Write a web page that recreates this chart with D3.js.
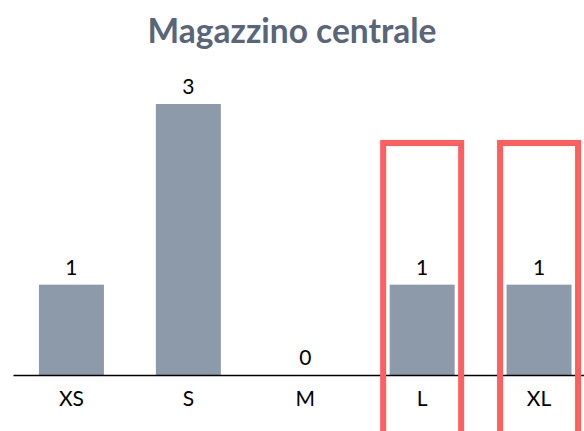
<!DOCTYPE html>
<html>
<head>
<meta charset="utf-8">
<script src="https://cdn.jsdelivr.net/npm/d3@7"></script>
<style>
  html, body { margin: 0; padding: 0; background: #fff; }
  svg { display: block; }
  text { font-family: Lato, "Open Sans", sans-serif; }
</style>
</head>
<body>
<svg id="chart" width="584" height="431"></svg>
<script>
// Stock per size at the central warehouse
const title = "Magazzino centrale";
const sizes = ["XS", "S", "M", "L", "XL"];
const counts = [1, 3, 0, 1, 1];
const highlighted = ["L", "XL"];

const W = 584, H = 431;
const svg = d3.select("#chart");

const x = d3.scaleBand()
  .domain(sizes)
  .range([13, 597.5])
  .paddingInner(0.444)
  .paddingOuter(0.222);

const y = d3.scaleLinear()
  .domain([0, 3])
  .range([375, 104]);

// Title
svg.append("text")
  .attr("x", W / 2)
  .attr("y", 43)
  .attr("text-anchor", "middle")
  .attr("font-size", 33.5)
  .attr("font-weight", 700)
  .attr("fill", "#596578")
  .text(title);

// Bars
svg.append("g")
  .selectAll("rect")
  .data(sizes)
  .join("rect")
  .attr("x", d => x(d))
  .attr("y", (d, i) => y(counts[i]))
  .attr("width", x.bandwidth())
  .attr("height", (d, i) => y(0) - y(counts[i]))
  .attr("fill", "#8d9aaa");

// Value labels
svg.append("g")
  .selectAll("text")
  .data(sizes)
  .join("text")
  .attr("x", d => x(d) + x.bandwidth() / 2)
  .attr("y", (d, i) => y(counts[i]) - 10)
  .attr("text-anchor", "middle")
  .attr("font-size", 21)
  .attr("fill", "#000")
  .text((d, i) => counts[i]);

// Category axis
const axis = svg.append("g")
  .attr("transform", `translate(0,${y(0)})`)
  .call(d3.axisBottom(x).tickSize(0).tickPadding(16));
axis.select(".domain")
  .attr("stroke", "#000")
  .attr("stroke-width", 1.6);
axis.selectAll(".tick text")
  .attr("font-family", "Lato, 'Open Sans', sans-serif")
  .attr("font-size", 21)
  .attr("fill", "#000");

// Highlight frames around selected sizes
svg.append("g")
  .selectAll("rect")
  .data(highlighted)
  .join("rect")
  .attr("x", d => x(d) - 6.5)
  .attr("y", 143)
  .attr("width", x.bandwidth() + 13)
  .attr("height", 320)
  .attr("fill", "none")
  .attr("stroke", "#ff5f5f")
  .attr("stroke-width", 6);
</script>
</body>
</html>
